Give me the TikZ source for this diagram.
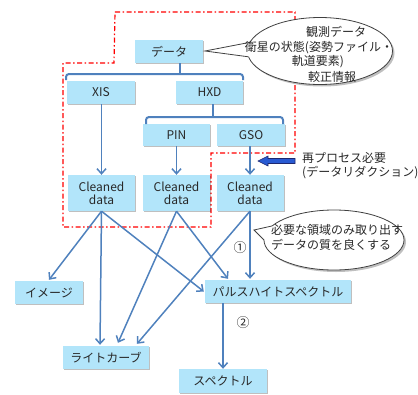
\documentclass[tikz,border=0pt]{standalone}
\usepackage{fontspec}
\setmainfont{Noto Sans CJK JP}
\usetikzlibrary{shadows,arrows.meta}
\definecolor{boxfill}{RGB}{178,229,250}
\definecolor{lineblue}{RGB}{79,129,189}
\definecolor{txt}{RGB}{40,40,40}
\definecolor{bigarrow}{RGB}{40,90,210}
\definecolor{bigarrowline}{RGB}{30,40,110}
\begin{document}
\begin{tikzpicture}[x=1pt,y=-1pt,
  font=\fontsize{12}{14}\selectfont,
  lat/.style={font=\fontsize{12}{13}\selectfont},
  box/.style={fill=boxfill, text=txt, inner sep=0pt, align=center,
    drop shadow={shadow xshift=1pt, shadow yshift=-1.2pt, opacity=0.25, fill=black}},
  conn/.style={draw=lineblue, line width=1.5pt, -{Straight Barb[length=5pt,width=9pt,line width=1.5pt]}},
  brk/.style={draw=lineblue, line width=2pt, rounded corners=3pt},
  redline/.style={draw=red, line width=1.2pt, dash pattern=on 5pt off 2.5pt on 1.5pt off 2.5pt},
  cline/.style={draw=black!75, line width=0.8pt},
  ctext/.style={text=txt, inner sep=0pt}
]
\useasboundingbox (0,0) rectangle (418,394);

% red dash-dot outline
\draw[redline] (115,12) -- (295,12) -- (295,153) -- (211,153) -- (211,227) -- (63,227) -- (63,63) -- (114,63) -- cycle;

% boxes
\node[box, minimum width=68pt, minimum height=23pt] (data) at (169,51.5) {データ};
\node[box, lat, minimum width=68pt, minimum height=23pt] (xis) at (101,92.5) {XIS};
\node[box, lat, minimum width=67pt, minimum height=23pt] (hxd) at (209.5,92.5) {HXD};
\node[box, lat, minimum width=67pt, minimum height=22pt] (pin) at (176.5,135) {PIN};
\node[box, lat, minimum width=68pt, minimum height=22pt] (gso) at (251,135) {GSO};
\node[box, lat, minimum width=67pt, minimum height=36pt] (c1) at (101.5,193) {Cleaned\\data};
\node[box, lat, minimum width=67pt, minimum height=36pt] (c2) at (176.5,193) {Cleaned\\data};
\node[box, lat, minimum width=67pt, minimum height=36pt] (c3) at (250,193) {Cleaned\\data};
\node[box, minimum width=68pt, minimum height=23pt] (img) at (49,292.5) {イメージ};
\node[box, minimum width=146pt, minimum height=23pt] (phs) at (278,291.5) {パルスハイトスペクトル};
\node[box, minimum width=86pt, minimum height=23pt] (lc) at (106,357.5) {ライトカーブ};
\node[box, minimum width=88pt, minimum height=24pt] (spec) at (223,381) {スペクトル};

% brackets
\draw[brk] (66,80) -- (66,74) -- (243,74) -- (243,80);
\draw[draw=lineblue, line width=2pt] (data.south -| 180,0) -- (180,74);
\draw[brk] (146,124) -- (146,117) -- (283,117) -- (283,124);
\draw[draw=lineblue, line width=2pt] (hxd.south -| 213,0) -- (213,117);

% arrows
\draw[conn] (xis.south -| c1.north) -- (c1.north);
\draw[conn] (pin.south) -- (c2.north);
\draw[conn] (gso.south -| c3.north) -- (c3.north);

\draw[conn] (c1.south) -- ([yshift=1pt]img.north);
\draw[conn] (c1.south) -- ([xshift=-6pt,yshift=1pt]lc.north);
\draw[conn] (c1.south) -- ([xshift=-1pt]phs.west);
\draw[conn] (c2.south) -- ([xshift=12pt,yshift=3pt]lc.north);
\draw[conn] (c2.south) -- ([xshift=-50pt,yshift=1pt]phs.north);
\draw[conn] (c3.south) -- ([xshift=31pt,yshift=2pt]lc.north);
\draw[conn] (c3.south) -- ([yshift=1pt]phs.north -| c3.south);
\draw[conn] (phs.south -| spec.north) -- (spec.north);

% numbers
\node[ctext, font=\fontsize{13}{15}\selectfont] (n1) at (240,248) {①};
\node[ctext, font=\fontsize{13}{15}\selectfont] (n2) at (243,323) {②};

% big reprocess arrow
\coordinate (ba) at (258,161);
\draw[fill=bigarrow, draw=bigarrowline, line width=0.6pt]
  (ba) -- ++(10,-5) -- ++(0,2.5) -- ++(27,0) -- ++(0,5) -- ++(-27,0) -- ++(0,2.5) -- cycle;
\node[ctext, anchor=west] (rp1) at (302,158) {再プロセス必要};
\node[ctext, anchor=west] (rp2) at (302,173) {(データリダクション)};

% callout 1
\coordinate (co1) at (320,51);
\coordinate (tip1) at (205,51);
\fill[black, opacity=0.25] ([shift={(2,2)}]co1) ellipse [x radius=72.5, y radius=33.5];
\draw[cline, fill=white] (co1) ellipse [x radius=72.5, y radius=33.5];
\fill[white] ([shift={(165:72.5 and -33.5)}]co1) -- (tip1) -- ([shift={(190:72.5 and -33.5)}]co1)
  -- ([shift={(190:70 and -31)}]co1) -- ([shift={(165:70 and -31)}]co1) -- cycle;
\draw[cline] ([shift={(165:72.5 and -33.5)}]co1) -- (tip1) -- ([shift={(190:72.5 and -33.5)}]co1);
\node[ctext] (t11) at (336,32) {観測データ};
\node[ctext] (t12) at (319,48) {衛星の状態(姿勢ファイル・};
\node[ctext] (t13) at (318,62) {軌道要素)};
\node[ctext] (t14) at (332,77) {較正情報};

% callout 2
\coordinate (co2) at (334,240);
\coordinate (tip2) at (254,230);
\fill[black, opacity=0.25] ([shift={(2,2)}]co2) ellipse [x radius=70, y radius=30];
\draw[cline, fill=white] (co2) ellipse [x radius=70, y radius=30];
\fill[white] ([shift={(152:70 and -30)}]co2) -- (tip2) -- ([shift={(180:70 and -30)}]co2)
  -- ([shift={(180:67 and -27)}]co2) -- ([shift={(152:67 and -27)}]co2) -- cycle;
\draw[cline] ([shift={(152:70 and -30)}]co2) -- (tip2) -- ([shift={(180:70 and -30)}]co2);
\node[ctext] (t21) at (337,230) {必要な領域のみ取り出す};
\node[ctext] (t22) at (331,245) {データの質を良くする};
\end{tikzpicture}
\end{document}
